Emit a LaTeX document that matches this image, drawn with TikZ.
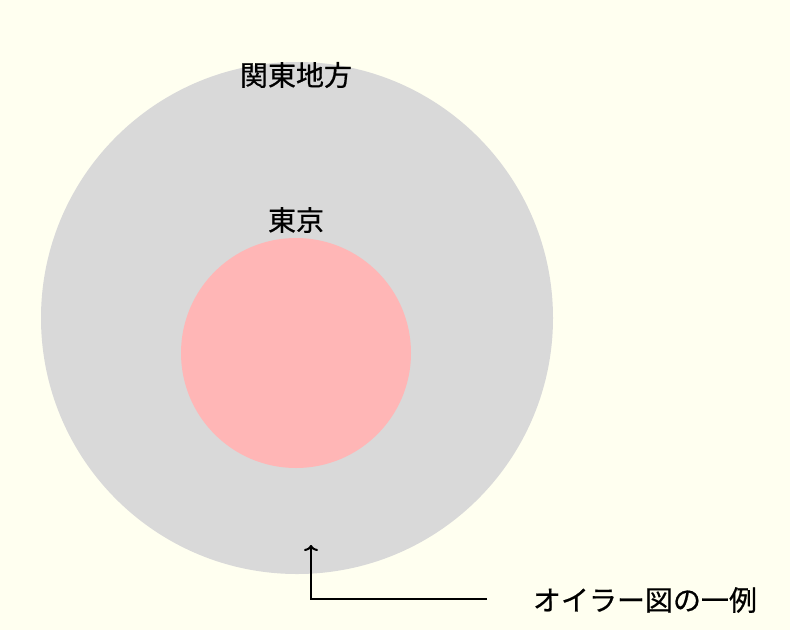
\documentclass[tikz,border=0pt]{standalone}
\usepackage{fontspec}
\usetikzlibrary{arrows.meta}
\newfontfamily\jpfont[FakeBold=0.6]{Noto Sans CJK JP}
\definecolor{ivory}{RGB}{255,255,240}
\definecolor{kantogray}{RGB}{217,217,217}
\definecolor{tokyopink}{RGB}{255,182,182}

\begin{document}
\begin{tikzpicture}[x=1pt,y=-1pt,font=\jpfont\fontsize{28}{32}\selectfont,>={To[length=6pt,width=14pt]}]
                \fill[ivory] (0,0) rectangle (790,630);
                \useasboundingbox (0,0) rectangle (790,630);

                \fill[kantogray] (297,318) circle (256);
                \fill[tokyopink] (296,353) circle (115);

                \node (kanto) at (296,75) {関東地方};
                \node (tokyo) at (296,220) {東京};
                \node (caption) at (645,600) {オイラー図の一例};

                \coordinate (tail) at (487,599);
                \coordinate (corner) at (311,599);
                \coordinate (head) at (311,545);
                \draw [line width=2pt,->] (tail)--(corner)--(head);
            \end{tikzpicture}
\end{document}
